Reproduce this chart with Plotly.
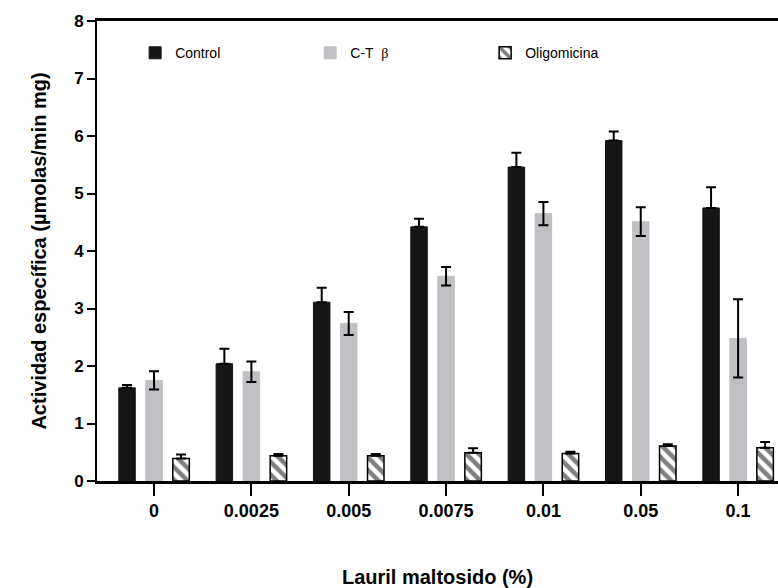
import plotly.graph_objects as go

categories = ["0", "0.0025", "0.005", "0.0075", "0.01", "0.05", "0.1"]
control = [1.62, 2.04, 3.11, 4.42, 5.46, 5.92, 4.75]
control_err = [0.05, 0.26, 0.25, 0.14, 0.25, 0.16, 0.36]
ctb = [1.75, 1.90, 2.74, 3.56, 4.65, 4.51, 2.48]
ctb_err = [0.16, 0.18, 0.20, 0.16, 0.20, 0.25, 0.68]
olig = [0.39, 0.44, 0.44, 0.49, 0.48, 0.61, 0.58]
olig_err = [0.07, 0.03, 0.03, 0.08, 0.03, 0.03, 0.10]

y_ticks = [0, 1, 2, 3, 4, 5, 6, 7, 8]

FONT = "Liberation Sans, Arial, sans-serif"
LEGFONT = "Liberation Sans Narrow, Arial Narrow, Liberation Sans, Arial, sans-serif"

def err(vals, sym):
    return dict(type="data", array=vals, arrayminus=vals if sym else [0]*len(vals),
                symmetric=False, color="black", thickness=2, width=5, visible=True)

fig = go.Figure()
fig.add_trace(go.Bar(
    x=categories, y=control, name="Control",
    marker=dict(color="#161616", line=dict(color="#161616", width=1)),
    error_y=err(control_err, False)))
fig.add_trace(go.Bar(
    x=categories, y=ctb, name="C-T\u00a0\u00a0<span style='font-family:Liberation Serif, Times New Roman, serif'>β</span>",
    marker=dict(color="#bfbfc4", line=dict(color="#bfbfc4", width=1)),
    error_y=err(ctb_err, True)))
fig.add_trace(go.Bar(
    x=categories, y=olig, name="Oligomicina",
    marker=dict(color="white", line=dict(color="black", width=1.5),
                pattern=dict(shape="\\", fgcolor="black", bgcolor="white", size=9, solidity=0.5)),
    error_y=err(olig_err, False)))

fig.update_layout(
    width=778, height=588,
    margin=dict(l=97, r=0, t=21, b=107),
    paper_bgcolor="white", plot_bgcolor="white",
    barmode="group", bargap=0.167, bargroupgap=0.39,
    font=dict(family=FONT, color="black"),
    showlegend=True,
    legend=dict(orientation="h", x=0.056, y=0.93, xanchor="left", yanchor="middle",
                entrywidth=130, entrywidthmode="pixels",
                font=dict(family=LEGFONT, size=14, color="black"),
                bgcolor="rgba(0,0,0,0)"),
    xaxis=dict(
        type="category", range=[-0.586, 6.41],
        showline=True, linecolor="black", linewidth=2.5, mirror=True,
        ticks="outside", ticklen=12, tickwidth=2, tickcolor="black",
        showgrid=False, zeroline=False,
        tickfont=dict(family=FONT, size=18, color="black", weight="bold"),
        title=dict(text="<b>Lauril maltosido (%)</b>", font=dict(family=FONT, size=20, color="black"),
                   standoff=52),
    ),
    yaxis=dict(
        range=[0, 8], tickvals=y_ticks,
        showline=True, linecolor="black", linewidth=2,
        ticks="outside", ticklen=8, tickwidth=2, tickcolor="black",
        showgrid=False, zeroline=False,
        tickfont=dict(family=FONT, size=17, color="black", weight="bold"),
        title=dict(text="<b>Actividad específica (µmolas/min mg)</b>",
                   font=dict(family=FONT, size=20, color="black"), standoff=22),
    ),
)

fig.write_html("out.html")
